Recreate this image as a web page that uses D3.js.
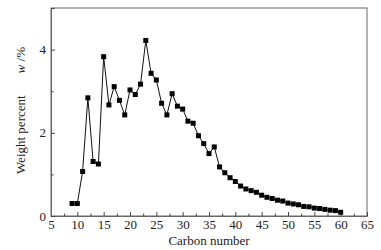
<!DOCTYPE html>
<html>
<head>
<meta charset="utf-8">
<script src="https://cdn.jsdelivr.net/npm/d3@7"></script>
<style>
  body { margin: 0; background: #fff; }
  svg { display: block; font-family: "Liberation Serif", "DejaVu Serif", serif; }
</style>
</head>
<body>
<svg></svg>
<script>
(function (d3) {
    'use strict';

    const carbon = [9, 10, 11, 12, 13, 14, 15, 16, 17, 18, 19, 20, 21, 22, 23, 24, 25,
        26, 27, 28, 29, 30, 31, 32, 33, 34, 35, 36, 37, 38, 39, 40, 41, 42, 43, 44,
        45, 46, 47, 48, 49, 50, 51, 52, 53, 54, 55, 56, 57, 58, 59, 60];
    const weight = [0.30, 0.30, 1.07, 2.84, 1.31, 1.25, 3.83, 2.67, 3.11, 2.78, 2.43, 3.03,
        2.92, 3.17, 4.22, 3.43, 3.27, 2.71, 2.43, 2.94, 2.64, 2.57, 2.28, 2.23, 1.93,
        1.74, 1.50, 1.66, 1.18, 1.04, 0.92, 0.83, 0.72, 0.65, 0.61, 0.57, 0.50, 0.45,
        0.42, 0.38, 0.36, 0.31, 0.29, 0.27, 0.23, 0.22, 0.19, 0.18, 0.16, 0.14, 0.13, 0.09];
    const xTicks = [5, 10, 15, 20, 25, 30, 35, 40, 45, 50, 55, 60, 65];
    const yTicks = [0, 2, 4];

    const width = 381;
    const height = 250;
    const margin = { top: 8, right: 14, bottom: 34, left: 51 };
    const innerWidth = width - margin.left - margin.right;
    const innerHeight = height - margin.top - margin.bottom;
    const font = '"Liberation Serif", "DejaVu Serif", serif';

    const svg = d3.select('svg')
        .attr('width', width)
        .attr('height', height);

    const g = svg.append('g')
        .attr('transform', `translate(${margin.left}, ${margin.top})`);

    const x = d3.scaleLinear().domain([5, 65]).range([0, innerWidth]);
    const y = d3.scaleLinear().domain([0, 5]).range([innerHeight, 0]);

    // frame
    g.append('rect')
        .attr('width', innerWidth)
        .attr('height', innerHeight)
        .attr('fill', 'none')
        .attr('stroke', '#666')
        .attr('stroke-width', 1);

    // axes, ticks pointing inward
    g.append('g')
        .attr('transform', `translate(0, ${innerHeight})`)
        .call(d3.axisBottom(x).tickValues(xTicks).tickSize(-4).tickPadding(4).tickFormat(d3.format('d')));
    g.append('g')
        .attr('transform', `translate(0, ${innerHeight})`)
        .call(d3.axisBottom(x).tickValues(d3.range(7.5, 65, 5)).tickSize(-2.5).tickFormat(''))
        .call(a => a.select('.domain').remove());

    g.append('g')
        .call(d3.axisLeft(y).tickValues(yTicks).tickSize(-4).tickPadding(5).tickFormat(d3.format('d')));
    g.append('g')
        .call(d3.axisLeft(y).tickValues([1, 3, 5]).tickSize(-2.5).tickFormat(''))
        .call(a => a.select('.domain').remove());

    g.selectAll('g')
        .attr('font-family', font)
        .attr('font-size', 13);
    g.selectAll('.domain').attr('stroke', '#666');
    g.selectAll('.tick line').attr('stroke', '#444');
    g.selectAll('.tick text').attr('fill', '#222');

    // line + square markers
    const pts = carbon.map((c, i) => ({ c: c, w: weight[i] }));
    const line = d3.line().x(d => x(d.c)).y(d => y(d.w));

    g.append('path')
        .datum(pts)
        .attr('fill', 'none')
        .attr('stroke', '#111')
        .attr('stroke-width', 1)
        .attr('d', line);

    const s = 5;
    g.selectAll('rect.pt').data(pts)
        .enter().append('rect')
            .attr('class', 'pt')
            .attr('x', d => x(d.c) - s / 2)
            .attr('y', d => y(d.w) - s / 2)
            .attr('width', s)
            .attr('height', s)
            .attr('fill', '#000');

    // axis titles
    svg.append('text')
        .attr('x', margin.left + innerWidth / 2)
        .attr('y', 245)
        .attr('text-anchor', 'middle')
        .attr('font-family', font)
        .attr('font-size', 13)
        .attr('fill', '#222')
        .text('Carbon number');

    const yl = svg.append('text')
        .attr('transform', 'translate(25, 47) rotate(-90)')
        .attr('text-anchor', 'end')
        .attr('font-family', font)
        .attr('font-size', 13)
        .attr('fill', '#222');
    yl.append('tspan').text('Weight percent');
    yl.append('tspan').attr('dx', 22).attr('font-style', 'italic').text('w');
    yl.append('tspan').text(' /%');
}(d3));
</script>
</body>
</html>
